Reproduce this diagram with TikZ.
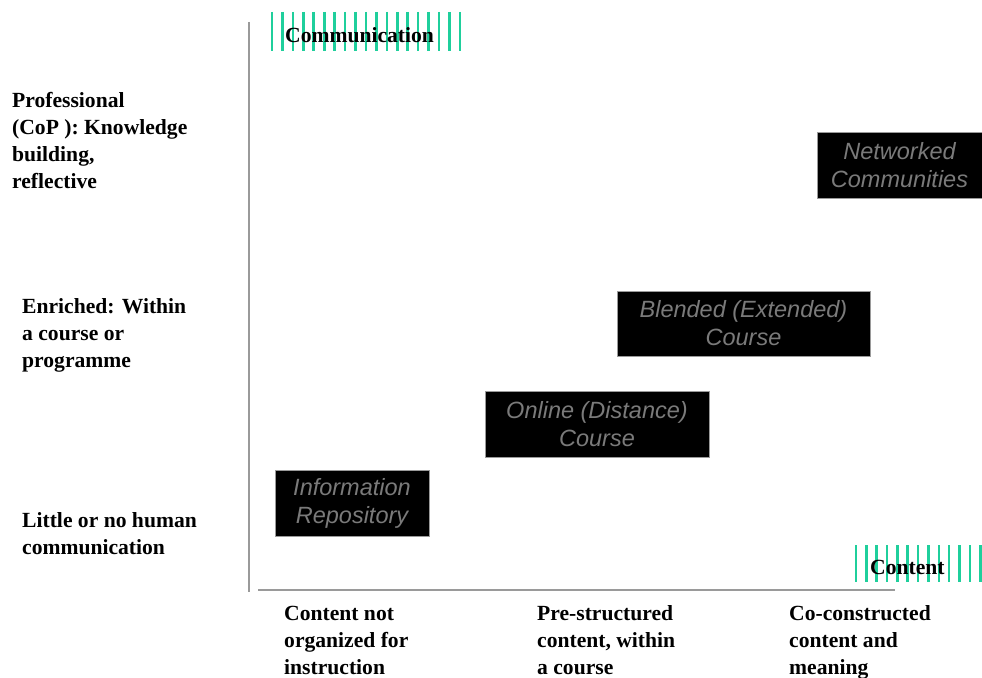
\documentclass[tikz,border=0pt]{standalone}
\usepackage{fontspec}
\setmainfont{Liberation Serif}
\newfontfamily\boxfont{Liberation Sans}
\definecolor{hatch}{HTML}{1FCF9C}
\definecolor{axisgray}{HTML}{9A9A9A}
\definecolor{boxtext}{HTML}{7A7A7A}
\begin{document}
\begin{tikzpicture}[x=1pt,y=-1pt,
  lbl/.style={anchor=base west,inner sep=0pt,font=\fontsize{21.6}{26.7}\selectfont\bfseries,align=left},
  blk/.style={draw=axisgray,line width=0.8pt,fill=black,text=boxtext,inner sep=0pt,align=center,
     font=\boxfont\itshape\fontsize{23.5}{28}\selectfont},
  hl/.style={draw=hatch,line width=2.6pt},
  ax/.style={draw=axisgray,line width=1.3pt}]
\useasboundingbox (0,0) rectangle (982,677);
\fill[white] (0,0) rectangle (982,677);
% axes
\coordinate (yt) at (249,22);
\coordinate (yb) at (249,592);
\coordinate (xl) at (258,590);
\coordinate (xr) at (895,590);
\draw[ax] (yt) -- (yb);
\draw[ax] (xl) -- (xr);
% hatches
\foreach \i in {0,...,18} {\draw[hl] ({272+\i*10.44},12) -- ({272+\i*10.44},51);}
\foreach \i in {0,...,12} {\draw[hl] ({856+\i*10.35},545) -- ({856+\i*10.35},582);}
\node[lbl] (comm) at (285,43) {Communication};
\node[lbl] (cont) at (870,574) {Content};
% left labels (anchored at the baseline of their last line)
\node[lbl] (prof) at (12,188) {Professional\\(CoP ): Knowledge\\building,\\reflective};
\node[lbl] (enr) at (22,367) {Enriched: Within\\a course or\\programme};
\node[lbl] (lit) at (22,554) {Little or no human\\communication};
% bottom labels
\node[lbl] (b1) at (284,674) {Content not\\organized for\\instruction};
\node[lbl] (b2) at (537,674) {Pre-structured\\content, within\\a course};
\node[lbl] (b3) at (789,674) {Co-constructed\\content and\\meaning};
% boxes
\node[blk,minimum width=165pt,minimum height=66pt] (net) at (899.5,165) {Networked\\Communities};
\node[blk,minimum width=253pt,minimum height=65pt] (bld) at (743.5,323.5) {Blended (Extended)\\Course};
\node[blk,minimum width=224pt,minimum height=66pt] (onl) at (597,424) {Online (Distance)\\Course};
\node[blk,minimum width=154pt,minimum height=66pt] (inf) at (352,503) {Information\\Repository};
\end{tikzpicture}
\end{document}
